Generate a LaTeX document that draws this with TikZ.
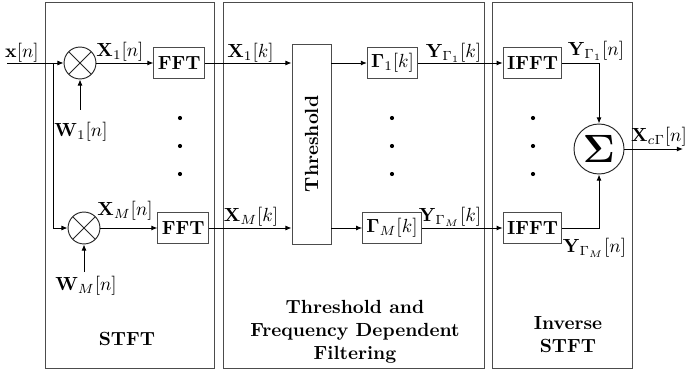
\documentclass[tikz,border=0pt]{standalone}
\usepackage{amssymb, amsmath}
\usepackage{tikz}
\usetikzlibrary{positioning, arrows.meta, calc}

\begin{document}
\begin{tikzpicture}[
  x=0.526pt, y=-0.526pt,
  >={Latex[length=3.2pt, width=2.6pt]},
  frame/.style   = {draw=black!70, line width=0.5pt},
  blk/.style     = {draw=black!70, line width=0.5pt, inner sep=2pt, minimum height=16pt, font=\bfseries},
  mult/.style    = {circle, draw=black!85, line width=0.5pt, minimum size=16.8pt, inner sep=0pt,
                    path picture={\draw[line width=0.5pt] (path picture bounding box.north west) -- (path picture bounding box.south east)
                                  (path picture bounding box.north east) -- (path picture bounding box.south west);}},
  sumnode/.style = {circle, draw=black!85, line width=0.5pt, minimum size=26.3pt, inner sep=0pt},
  lbl/.style     = {inner sep=1pt},
  title/.style   = {align=center, font=\bfseries},
  arr/.style     = {->, line width=0.5pt},
]
  \useasboundingbox (0,0) rectangle (685,377);
  % Three stages: STFT | threshold + filtering | inverse STFT.
  \draw[frame] (45,2)  rectangle (214,368);
  \draw[frame] (223,2) rectangle (484,368);
  \draw[frame] (492,2) rectangle (632,368);

  \coordinate (in)  at (7,63);
  \coordinate (br)  at (53,63);
  \coordinate (w1)  at (80,110);
  \coordinate (wM)  at (84,272);
  \coordinate (out) at (683,149);

  \node[mult]                    (mult1) at (80,63)  {};
  \node[mult]                    (mult2) at (84,228) {};
  \node[blk, right=30pt of mult1] (fft1)  {FFT};
  \node[blk, right=30pt of mult2] (fft2)  {FFT};
  \node[blk, minimum width=20.5pt, minimum height=105.2pt] (thr) at (311.5,144) {\rotatebox{90}{Threshold}};
  \node[blk]                     (g1)    at (392.5,63) {$\mathbf{\Gamma}_1[k]$};
  \node[blk]                     (gM)    at (392,228)  {$\mathbf{\Gamma}_M[k]$};
  \node[blk]                     (ifft1) at (532.5,63) {IFFT};
  \node[blk]                     (ifft2) at (532.5,228) {IFFT};
  \node[sumnode]                 (sum)   at (599,149)  {\huge$\boldsymbol{\Sigma}$};

  \draw[arr] (in) -- (mult1);
  \draw[arr] (br) |- (mult2);
  \draw[arr] (w1) -- (mult1);
  \draw[arr] (wM) -- (mult2);
  \foreach \a/\b in {mult1/fft1, mult2/fft2, g1/ifft1, gM/ifft2}
     \draw[arr] (\a) -- (\b);
  \draw[arr] (fft1) -- (fft1 -| thr.west);
  \draw[arr] (fft2) -- (fft2 -| thr.west);
  \draw[arr] (thr.east |- g1) -- (g1);
  \draw[arr] (thr.east |- gM) -- (gM);
  \draw[arr] (ifft1) -| (sum);
  \draw[arr] (ifft2) -| (sum);
  \draw[arr] (sum) -- (out);

  \node[lbl] (xlbl)   at (22,53)    {$\mathbf{x}[n]$};
  \node[lbl] (x1nlbl) at (120,52)   {$\mathbf{X}_1[n]$};
  \node[lbl] (xMnlbl) at (125,210.5) {$\mathbf{X}_M[n]$};
  \node[lbl] (w1lbl)  at (81,132)   {$\mathbf{W}_1[n]$};
  \node[lbl] (wMlbl)  at (86,285.5) {$\mathbf{W}_M[n]$};
  \node[lbl] (x1klbl) at (250.5,53) {$\mathbf{X}_1[k]$};
  \node[lbl] (xMklbl) at (251,217)  {$\mathbf{X}_M[k]$};
  \node[lbl] (y1klbl) at (453.5,53) {$\mathbf{Y}_{\Gamma_1}[k]$};
  \node[lbl] (yMklbl) at (450,217)  {$\mathbf{Y}_{\Gamma_M}[k]$};
  \node[lbl] (y1nlbl) at (596,50.5) {$\mathbf{Y}_{\Gamma_1}[n]$};
  \node[lbl] (yMnlbl) at (594.5,248) {$\mathbf{Y}_{\Gamma_M}[n]$};
  \node[lbl] (xclbl)  at (659,136.5) {$\mathbf{X}_{c\Gamma}[n]$};

  \foreach \x in {180,392,533}
    \foreach \y in {118,146,174}
      \fill (\x,\y) circle (1.1pt);

  \node[title] (stftlbl)  at (127,339)   {STFT};
  \node[title] (filtlbl)  at (355,332)   {Threshold and\\Frequency Dependent\\Filtering};
  \node[title] (istftlbl) at (568,334.5) {Inverse\\STFT};
\end{tikzpicture}
\end{document}
